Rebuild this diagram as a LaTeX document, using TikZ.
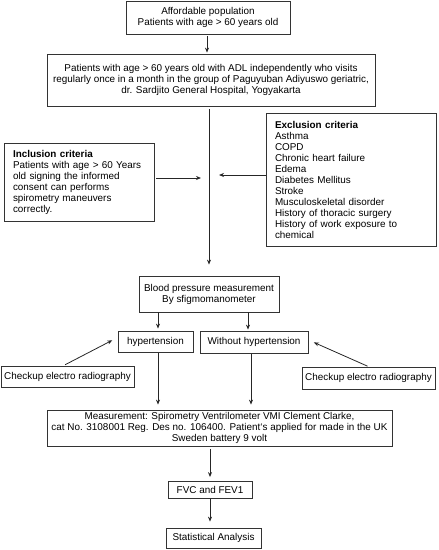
\documentclass[tikz,border=0pt]{standalone}
\usepackage{fontspec}
\setmainfont{Liberation Sans}
\usetikzlibrary{arrows.meta}

\begin{document}
\begin{tikzpicture}[x=1pt, y=-1pt]
            \tikzstyle{box}=[draw=black!80, line width=0.8pt, inner sep=0pt, align=center, font=\fontsize{9.9pt}{11pt}\selectfont]
            \tikzstyle{listbox}=[box, align=left, inner xsep=9pt, inner ysep=0pt]
            \tikzstyle{arr}=[draw=black!85, line width=0.8pt, -{Stealth[length=5pt, width=4pt]}]
            \useasboundingbox (0, 0) rectangle (439, 550);
            % screening of the population
            \node [box, minimum width=164, minimum height=33] (pop) at (208, 17.5) {Affordable population\\Patients with age > 60 years old};
            \node [box, minimum width=328, minimum height=52] (visit) at (211, 80) {Patients with age > 60 years old with ADL independently who visits\\regularly once in a month in the group of Paguyuban Adiyuswo geriatric,\\dr. Sardjito General Hospital, Yogyakarta};
            \node [listbox, text width=132, minimum height=78] (incl) at (79, 182) {\textbf{Inclusion criteria}\\Patients with age > 60 Years\\old signing the informed\\consent can performs\\spirometry maneuvers\\correctly.};
            \node [listbox, text width=152, minimum height=133] (excl) at (351, 179.5) {\textbf{Exclusion criteria}\\Asthma\\COPD\\Chronic heart failure\\Edema\\Diabetes Mellitus\\Stroke\\Musculoskeletal disorder\\History of thoracic surgery\\History of work exposure to\\chemical};
            % blood pressure groups
            \node [box, minimum width=140, minimum height=36] (bp) at (209, 294) {Blood pressure measurement\\By sfigmomanometer};
            \node [box, minimum width=75, minimum height=21] (hyp) at (155.5, 341.5) {hypertension};
            \node [box, minimum width=108, minimum height=22] (nohyp) at (254, 342) {Without hypertension};
            \node [box, minimum width=133, minimum height=21] (ecgL) at (67.5, 377) {Checkup electro radiography};
            \node [box, minimum width=133, minimum height=22] (ecgR) at (368.5, 378) {Checkup electro radiography};
            % spirometry and analysis
            \node [box, minimum width=345, minimum height=36] (meas) at (219.5, 428) {Measurement: Spirometry Ventrilometer VMI Clement Clarke,\\cat No. 3108001 Reg. Des no. 106400. Patient`s applied for made in the UK\\Sweden battery 9 volt};
            \node [box, minimum width=84, minimum height=17] (fvc) at (210, 490) {FVC and FEV1};
            \node [box, minimum width=95, minimum height=20] (stat) at (213.5, 538) {Statistical Analysis};
            \coordinate (hypx) at ([xshift=2.5]hyp.north);
            \coordinate (nohypx) at ([xshift=-6]nohyp.north);
            \coordinate (nohypy) at ([xshift=-3]nohyp.south);
            \draw [arr, shorten <=2pt, shorten >=1pt] ([xshift=-1]pop.south) -- ([xshift=-4]visit.north);
            \draw [arr, shorten <=3pt, shorten >=11pt] (visit.south -| bp.north) -- (bp.north);
            \draw [arr, shorten <=2pt, shorten >=8pt] ([yshift=4]incl.east) -- ([yshift=4]incl.east -| bp.north);
            \draw [arr, shorten >=10pt] ([yshift=4.5]excl.west) -- ([yshift=4.5]excl.west -| bp.north);
            \draw [arr, shorten >=2pt] (hypx |- bp.south) -- (hypx);
            \draw [arr, shorten >=1pt] (nohypx |- bp.south) -- (nohypx);
            \draw [arr, shorten <=3pt, shorten >=6pt] ([xshift=-5]ecgL.north) -- ([yshift=4]hyp.west);
            \draw [arr, shorten <=1pt, shorten >=6pt] (ecgR.north) -- ([yshift=2]nohyp.east);
            \draw [arr, shorten <=1pt, shorten >=5pt] (hypx |- hyp.south) -- (hypx |- meas.north);
            \draw [arr, shorten <=1pt, shorten >=5pt] (nohypy) -- (nohypy |- meas.north);
            \draw [arr, shorten <=3pt, shorten >=4pt] (fvc.north |- meas.south) -- (fvc.north);
            \draw [arr, shorten >=6pt] (fvc.south) -- (fvc.south |- stat.north);
        \end{tikzpicture}
\end{document}
